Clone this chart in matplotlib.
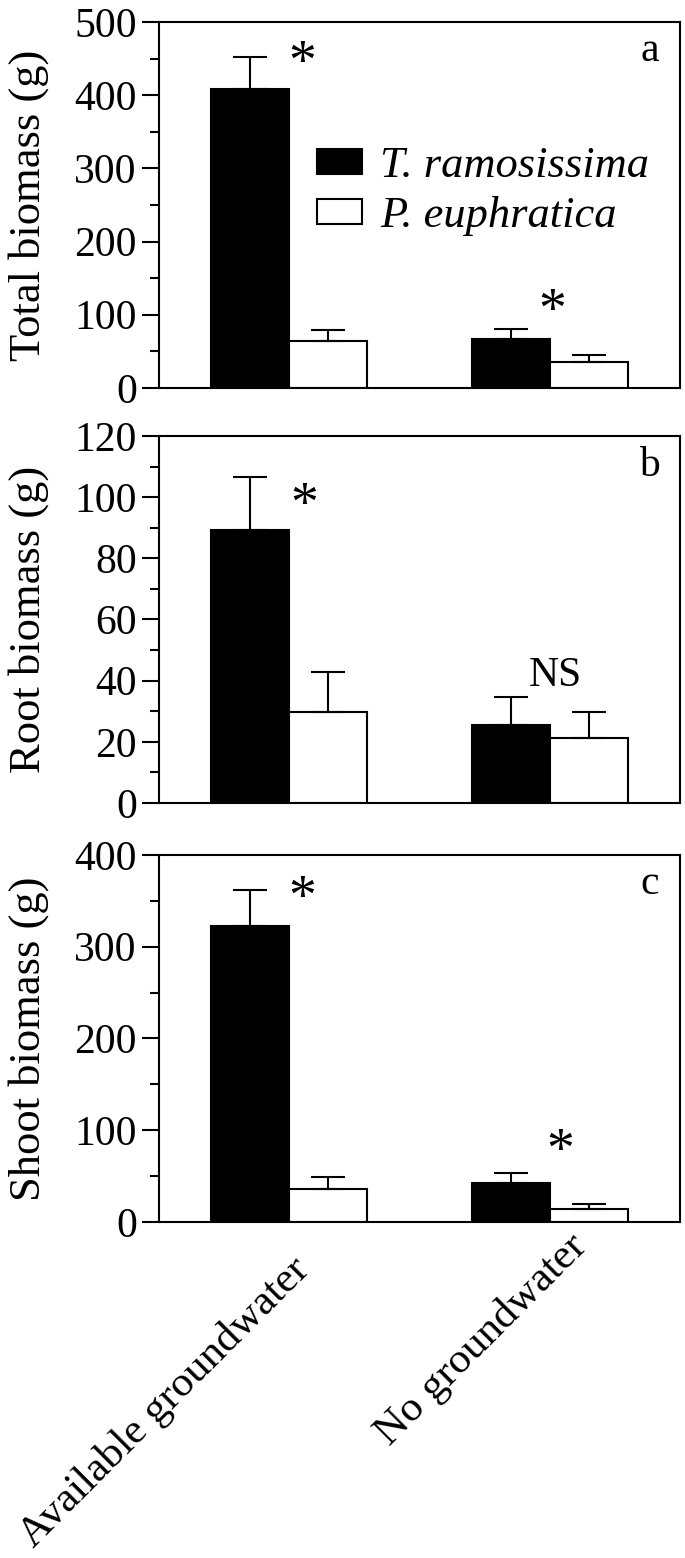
import matplotlib
matplotlib.use('Agg')
import matplotlib.pyplot as plt
import matplotlib.patches as mpatches
import matplotlib.transforms as mtransforms
import numpy as np

plt.rcParams['font.family'] = ['Liberation Serif', 'DejaVu Serif']
plt.rcParams['axes.linewidth'] = 1.5

groups = ['Available groundwater', 'No groundwater']
species = ['T. ramosissima', 'P. euphratica']

total_tr = [408, 67]
total_tr_se = [44, 13]
total_pe = [64, 35]
total_pe_se = [15, 10]

root_tr = [89.3, 25.5]
root_tr_se = [17.3, 9.2]
root_pe = [29.8, 21.2]
root_pe_se = [13.0, 8.6]

shoot_tr = [322.6, 42.5]
shoot_tr_se = [39.3, 10.9]
shoot_pe = [36, 14.2]
shoot_pe_se = [13.0, 5.4]

panels = [
    ('Total biomass (g)', 'a', total_tr, total_tr_se, total_pe, total_pe_se, 500, 100, 50),
    ('Root biomass (g)', 'b', root_tr, root_tr_se, root_pe, root_pe_se, 120, 20, 10),
    ('Shoot biomass (g)', 'c', shoot_tr, shoot_tr_se, shoot_pe, shoot_pe_se, 400, 100, 50),
]

# significance marks: (text, x, y) per panel
marks = [
    [('*', 1.05, 441), ('*', 2.01, 102)],
    [('*', 1.057, 96.8), ('NS', 2.02, 41.5)],
    [('*', 1.05, 351), ('*', 2.04, 75)],
]

fig = plt.figure(figsize=(6.85, 15.58), dpi=100)
bottoms = [0.7510, 0.4846, 0.2157]
heights = [0.2349, 0.2356, 0.2356]

x = np.array([1, 2])
w = 0.3
fs = 30

for i, (ylab, letter, tr, tr_se, pe, pe_se, ymax, major, minor) in enumerate(panels):
    ax = fig.add_axes([0.2321, bottoms[i], 0.7606, heights[i]])
    ekw = dict(ecolor='black', elinewidth=1.5, capsize=12, capthick=1.5)
    ax.bar(x - w / 2, tr, w, color='black', edgecolor='black', linewidth=1.5,
           yerr=[np.zeros(2), tr_se], error_kw=ekw, label=species[0])
    ax.bar(x + w / 2, pe, w, color='white', edgecolor='black', linewidth=1.5,
           yerr=[np.zeros(2), pe_se], error_kw=ekw, label=species[1])
    ax.set_xlim(0.5, 2.5)
    ax.set_ylim(0, ymax)
    ax.set_yticks(np.arange(0, ymax + 1, major))
    ax.set_yticks(np.arange(0, ymax + 1, minor), minor=True)
    ax.tick_params(axis='y', which='major', direction='out', length=12, width=1.5,
                   labelsize=fs, pad=4)
    ax.tick_params(axis='y', which='minor', direction='out', length=6.5, width=1.5)
    ax.tick_params(axis='x', length=0)
    ax.set_ylabel(ylab, fontsize=32, labelpad=18)
    ax.set_xticks(x)
    if i == 2:
        labels = ax.set_xticklabels(groups, rotation=45, ha='right', va='top',
                                    rotation_mode='anchor', fontsize=31)
        shifts = [(0, -23), (17, 0)]
        for lab, (dx, dy) in zip(labels, shifts):
            off = mtransforms.ScaledTranslation(dx / 100, dy / 100, fig.dpi_scale_trans)
            lab.set_transform(lab.get_transform() + off)
    else:
        ax.set_xticklabels([])
    ax.text(0.942, 0.92, letter, transform=ax.transAxes, fontsize=fs,
            ha='center', va='center')
    for t, mx, my in marks[i]:
        ax.text(mx, my, t, fontsize=40 if t == '*' else fs, ha='center', va='center')
    if i == 0:
        h1 = mpatches.Patch(facecolor='black', edgecolor='black', linewidth=1.5)
        h2 = mpatches.Patch(facecolor='white', edgecolor='black', linewidth=1.5)
        ax.legend([h1, h2], species, loc='upper left', bbox_to_anchor=(0.303, 0.66),
                  frameon=False, prop={'style': 'italic', 'size': 32},
                  handlelength=1.02, handleheight=0.5, handletextpad=0.4,
                  labelspacing=0.22, borderpad=0, borderaxespad=0)

fig.savefig('out.png', dpi=100)
